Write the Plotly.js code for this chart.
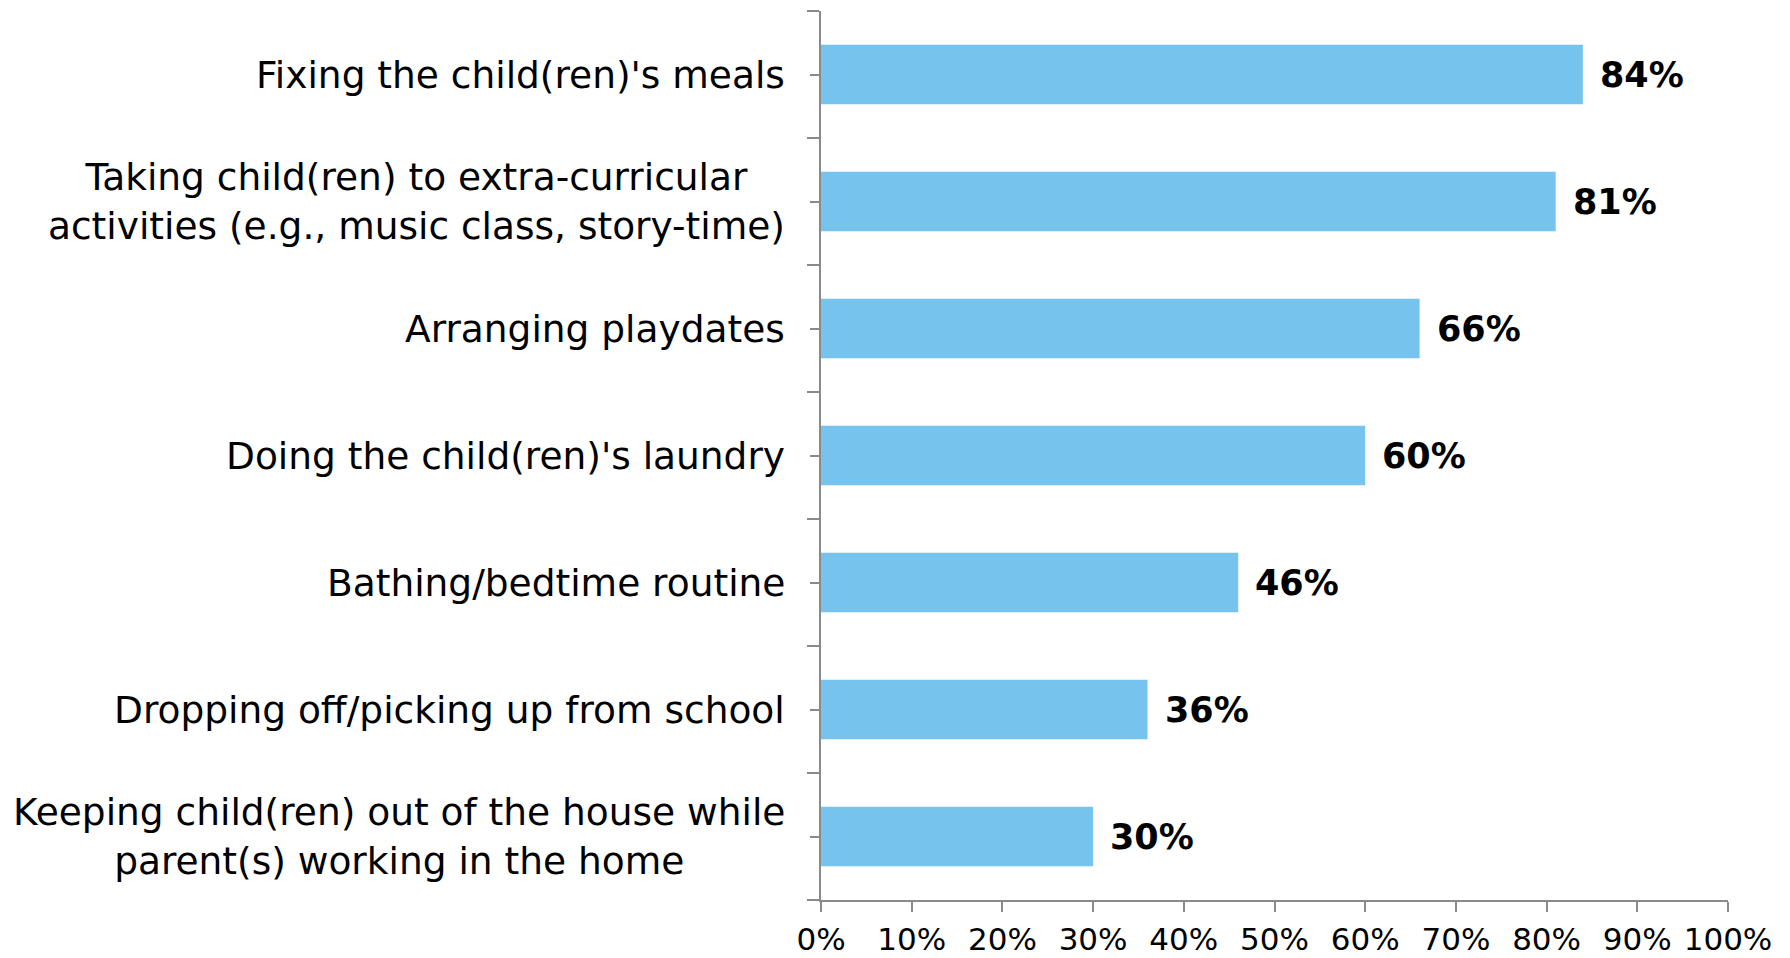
<!DOCTYPE html>
<html>
<head>
<meta charset="utf-8">
<script src="https://cdn.plot.ly/plotly-3.0.1.min.js"></script>
<style>html,body{margin:0;padding:0;background:#fff;}#chart{width:1790px;height:958px;}</style>
</head>
<body>
<div id="chart"></div>
<script>
const categories = [
  "Fixing the child(ren)'s meals",
  "Taking child(ren) to extra-curricular<br>activities (e.g., music class, story-time)",
  "Arranging playdates",
  "Doing the child(ren)'s laundry",
  "Bathing/bedtime routine",
  "Dropping off/picking up from school",
  "Keeping child(ren) out of the house while<br>parent(s) working in the home"
];
const values = [84, 81, 66, 60, 46, 36, 30];
const xTickVals = [0, 10, 20, 30, 40, 50, 60, 70, 80, 90, 100];
const xTickText = ["0%", "10%", "20%", "30%", "40%", "50%", "60%", "70%", "80%", "90%", "100%"];

const positions = categories.map((c, i) => i);
const FONT = "DejaVu Sans, Verdana, sans-serif";
const AXIS = "#8a8a8a";

const trace = {
  type: "bar",
  orientation: "h",
  x: values,
  y: positions,
  width: 0.47,
  marker: {color: "#76C4EE", line: {width: 0}},
  hoverinfo: "skip"
};

const annotations = [];
categories.forEach((c, i) => {
  annotations.push({
    xref: "paper", yref: "y", x: 0, y: i,
    xanchor: "right", yanchor: "middle", align: "center",
    xshift: -34, showarrow: false, text: c,
    font: {family: FONT, size: 37.5, color: "#000"}
  });
  annotations.push({
    xref: "x", yref: "y", x: values[i], y: i,
    xanchor: "left", yanchor: "middle",
    xshift: 15, showarrow: false, text: "<b>" + values[i] + "%</b>",
    font: {family: FONT, size: 35, color: "#000"}
  });
});

const layout = {
  width: 1790, height: 958,
  margin: {l: 821, r: 62, t: 11, b: 58},
  paper_bgcolor: "#fff", plot_bgcolor: "#fff",
  showlegend: false,
  xaxis: {
    range: [0, 100], tickvals: xTickVals, ticktext: xTickText,
    showgrid: false, zeroline: false,
    showline: true, linecolor: AXIS, linewidth: 2,
    ticks: "outside", ticklen: 10, tickwidth: 2, tickcolor: AXIS,
    ticklabelstandoff: 1,
    tickfont: {family: FONT, size: 31, color: "#000"},
    fixedrange: true
  },
  yaxis: {
    range: [6.5, -0.5], tickvals: positions, showticklabels: false,
    showgrid: false, zeroline: false,
    showline: true, linecolor: AXIS, linewidth: 2,
    ticks: "outside", ticklen: 9, tickwidth: 2, tickcolor: AXIS,
    minor: {ticks: "outside", ticklen: 12, tickwidth: 2, tickcolor: AXIS, tick0: 0.5, dtick: 1, showgrid: false},
    fixedrange: true
  },
  annotations: annotations
};

Plotly.newPlot("chart", [trace], layout, {displayModeBar: false, staticPlot: true});
</script>
</body>
</html>
